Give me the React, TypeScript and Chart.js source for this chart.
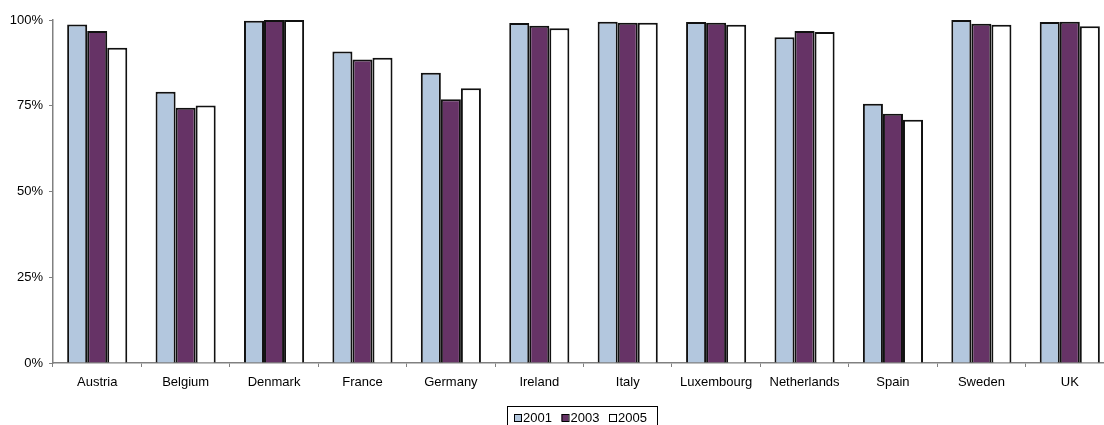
import React, { useEffect, useRef } from "react";
import { Chart, registerables } from "chart.js";

Chart.register(...registerables);

const categories = ["Austria", "Belgium", "Denmark", "France", "Germany", "Ireland", "Italy", "Luxembourg", "Netherlands", "Spain", "Sweden", "UK"];
const values2001 = [98.7, 79.1, 99.8, 90.8, 84.6, 99.1, 99.5, 99.4, 95.0, 75.6, 100, 99.4];
const values2003 = [96.8, 74.4, 100, 88.5, 76.9, 98.3, 99.2, 99.2, 96.8, 72.7, 98.9, 99.5];
const values2005 = [91.9, 75.1, 100, 89.0, 80.1, 97.6, 99.2, 98.6, 96.5, 70.9, 98.6, 98.2];
const seriesLabels = ["2001", "2003", "2005"];
const seriesColors = ["#B3C7DE", "#663366", "#FFFFFF"];
const yTicks = [0, 25, 50, 75, 100];

const FONT = "'Liberation Sans', Arial, sans-serif";

const boxLegend = {
  id: "boxLegend",
  afterDraw(chart: any) {
    const ctx = chart.ctx;
    ctx.save();
    const x0 = 507, y0 = 406, w = 150, h = 24;
    ctx.strokeStyle = "#000";
    ctx.lineWidth = 1;
    ctx.strokeRect(x0 + 0.5, y0 + 0.5, w, h);
    ctx.font = "13px " + FONT;
    ctx.textBaseline = "alphabetic";
    const ds = chart.data.datasets;
    let x = 514;
    ds.forEach((d: any) => {
      ctx.fillStyle = d.backgroundColor;
      ctx.fillRect(x, 414, 7, 7);
      ctx.strokeStyle = "#000";
      ctx.lineWidth = 1;
      ctx.strokeRect(x + 0.5, 414.5, 7, 7);
      ctx.fillStyle = "#000";
      ctx.fillText(d.label, x + 9, 422);
      x += 47.5;
    });
    ctx.restore();
  },
};

export default function App() {
  const ref = useRef<HTMLCanvasElement>(null);
  useEffect(() => {
    if (!ref.current) return;
    const data = [values2001, values2003, values2005];
    const chart = new Chart(ref.current, {
      type: "bar",
      data: {
        labels: categories,
        datasets: data.map((vals, i) => ({
          label: seriesLabels[i],
          data: vals,
          backgroundColor: seriesColors[i],
          borderColor: "#111",
          borderWidth: 2,
          categoryPercentage: 0.68,
          barPercentage: 1.0,
        })),
      },
      options: {
        responsive: false,
        animation: false,
        maintainAspectRatio: false,
        layout: { padding: { top: 20, right: 16, left: 0, bottom: 0 } },
        plugins: { legend: { display: false }, tooltip: { enabled: false } },
        scales: {
          x: {
            grid: { drawOnChartArea: false, drawTicks: true, tickLength: 4, color: "#808080", offset: true },
            border: { display: true, color: "#808080", width: 1.5 },
            ticks: { color: "#000", font: { family: FONT, size: 13 }, padding: 8, maxRotation: 0, autoSkip: false },
            afterFit: (s: any) => { s.height = 62; },
          },
          y: {
            min: 0,
            max: 100,
            afterBuildTicks: (s: any) => { s.ticks = yTicks.map((v) => ({ value: v })); },
            grid: { drawOnChartArea: false, drawTicks: true, tickLength: 4, color: "#808080" },
            border: { display: true, color: "#808080", width: 1.5 },
            ticks: { color: "#000", font: { family: FONT, size: 13 }, padding: 6, callback: (v: any) => v + "%" },
            afterFit: (s: any) => { s.width = 53; },
          },
        },
      },
      plugins: [boxLegend],
    });
    return () => chart.destroy();
  }, []);
  return (
    <div style={{ position: "absolute", left: 0, top: 0, width: 1104, height: 425, overflow: "hidden", background: "#fff" }}>
      <canvas ref={ref} width={1130} height={425} style={{ display: "block", width: 1130, height: 425 }} />
    </div>
  );
}
